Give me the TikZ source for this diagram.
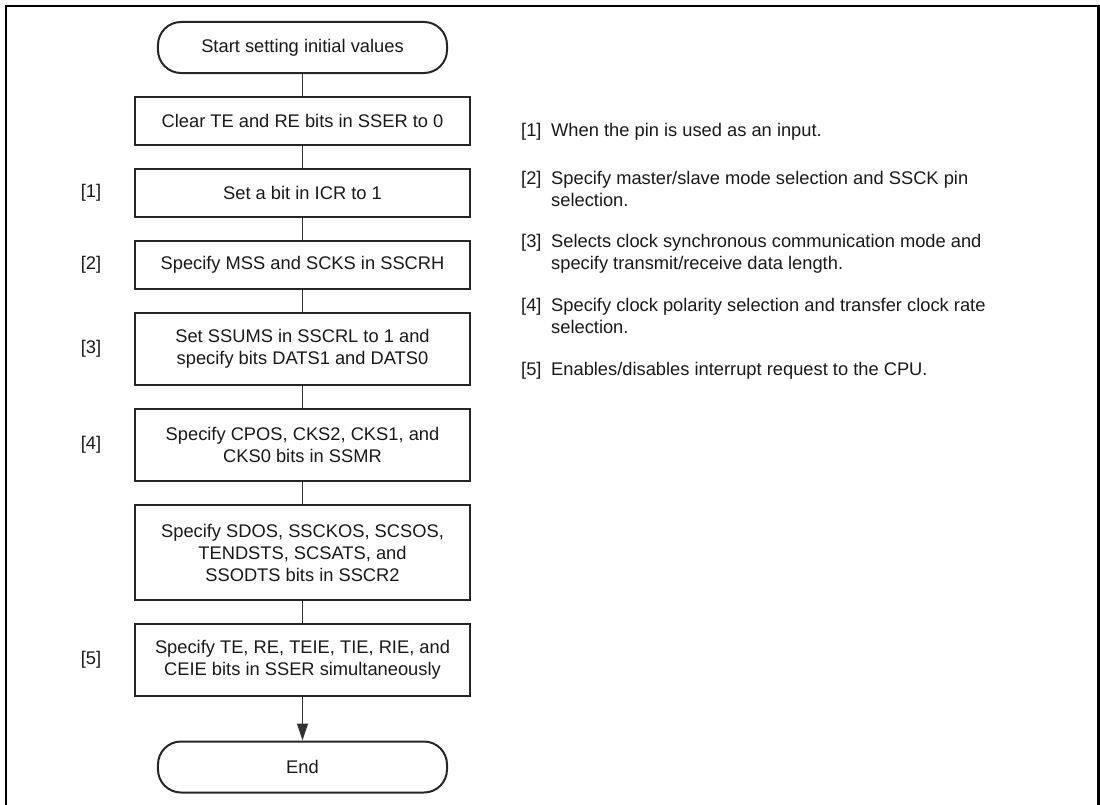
\documentclass[tikz,border=0pt]{standalone}
\usepackage{fontspec}
\setmainfont{Liberation Sans}
\usetikzlibrary{arrows.meta}
\begin{document}
\begin{tikzpicture}[x=1bp,y=-1bp,
  every node/.style={font=\fontsize{18.3bp}{22bp}\selectfont, text=black!90},
  procbox/.style={draw=black!85, line width=2bp, minimum width=335bp, align=center, inner sep=0pt},
  term/.style={draw=black!85, line width=2bp, rounded corners=23bp, minimum width=289bp, minimum height=51bp, inner sep=0pt},
  link/.style={draw=black!80, line width=1.2bp},
  tag/.style={inner sep=0pt},
  note/.style={inner sep=0pt, anchor=base west}]
\useasboundingbox (0,0) rectangle (1100,805);
% frame
\draw[line width=2.2bp] (6,805) -- (6,6) -- (1098.5,6) -- (1098.5,805);
% flow
\node[term] (start) at (302.5,47.5) {Start setting initial values};
\node[procbox, minimum height=48bp] (b1) at (302.5,121) {Clear TE and RE bits in SSER to 0};
\node[procbox, minimum height=48bp] (b2) at (302.5,193) {Set a bit in ICR to 1};
\node[procbox, minimum height=48bp] (b3) at (302.5,265) {Specify MSS and SCKS in SSCRH};
\node[procbox, minimum height=72bp] (b4) at (302.5,349) {Set SSUMS in SSCRL to 1 and\\specify bits DATS1 and DATS0};
\node[procbox, minimum height=72bp] (b5) at (302.5,445) {Specify CPOS, CKS2, CKS1, and\\CKS0 bits in SSMR};
\node[procbox, minimum height=95bp] (b6) at (302.5,552.5) {Specify SDOS, SSCKOS, SCSOS,\\TENDSTS, SCSATS, and\\SSODTS bits in SSCR2};
\node[procbox, minimum height=72bp] (b7) at (302.5,660) {Specify TE, RE, TEIE, TIE, RIE, and\\CEIE bits in SSER simultaneously};
\node[term] (end) at (302.5,767) {End};
\draw[link] (start.south) -- (b1.north);
\draw[link] (b1.south) -- (b2.north);
\draw[link] (b2.south) -- (b3.north);
\draw[link] (b3.south) -- (b4.north);
\draw[link] (b4.south) -- (b5.north);
\draw[link] (b5.south) -- (b6.north);
\draw[link] (b6.south) -- (b7.north);
\draw[link, -{Triangle[length=17bp,width=11bp]}] (b7.south) -- (end.north);
% left tags
\node[tag] (t1) at (91,193) {[1]};
\node[tag] (t2) at (91,265) {[2]};
\node[tag] (t3) at (91,349) {[3]};
\node[tag] (t4) at (91,445) {[4]};
\node[tag] (t5) at (91,660) {[5]};
% notes
\node[note] (n1) at (521,136.5) {\begin{tabular}[t]{@{}p{30bp}@{}l@{}}[1] & When the pin is used as an input.\end{tabular}};
\node[note] (n2) at (521,184.5) {\begin{tabular}[t]{@{}p{30bp}@{}l@{}}[2] & Specify master/slave mode selection and SSCK pin\\ & selection.\end{tabular}};
\node[note] (n3) at (521,247) {\begin{tabular}[t]{@{}p{30bp}@{}l@{}}[3] & Selects clock synchronous communication mode and\\ & specify transmit/receive data length.\end{tabular}};
\node[note] (n4) at (521,311.5) {\begin{tabular}[t]{@{}p{30bp}@{}l@{}}[4] & Specify clock polarity selection and transfer clock rate\\ & selection.\end{tabular}};
\node[note] (n5) at (521,375.5) {\begin{tabular}[t]{@{}p{30bp}@{}l@{}}[5] & Enables/disables interrupt request to the CPU.\end{tabular}};
\end{tikzpicture}
\end{document}
